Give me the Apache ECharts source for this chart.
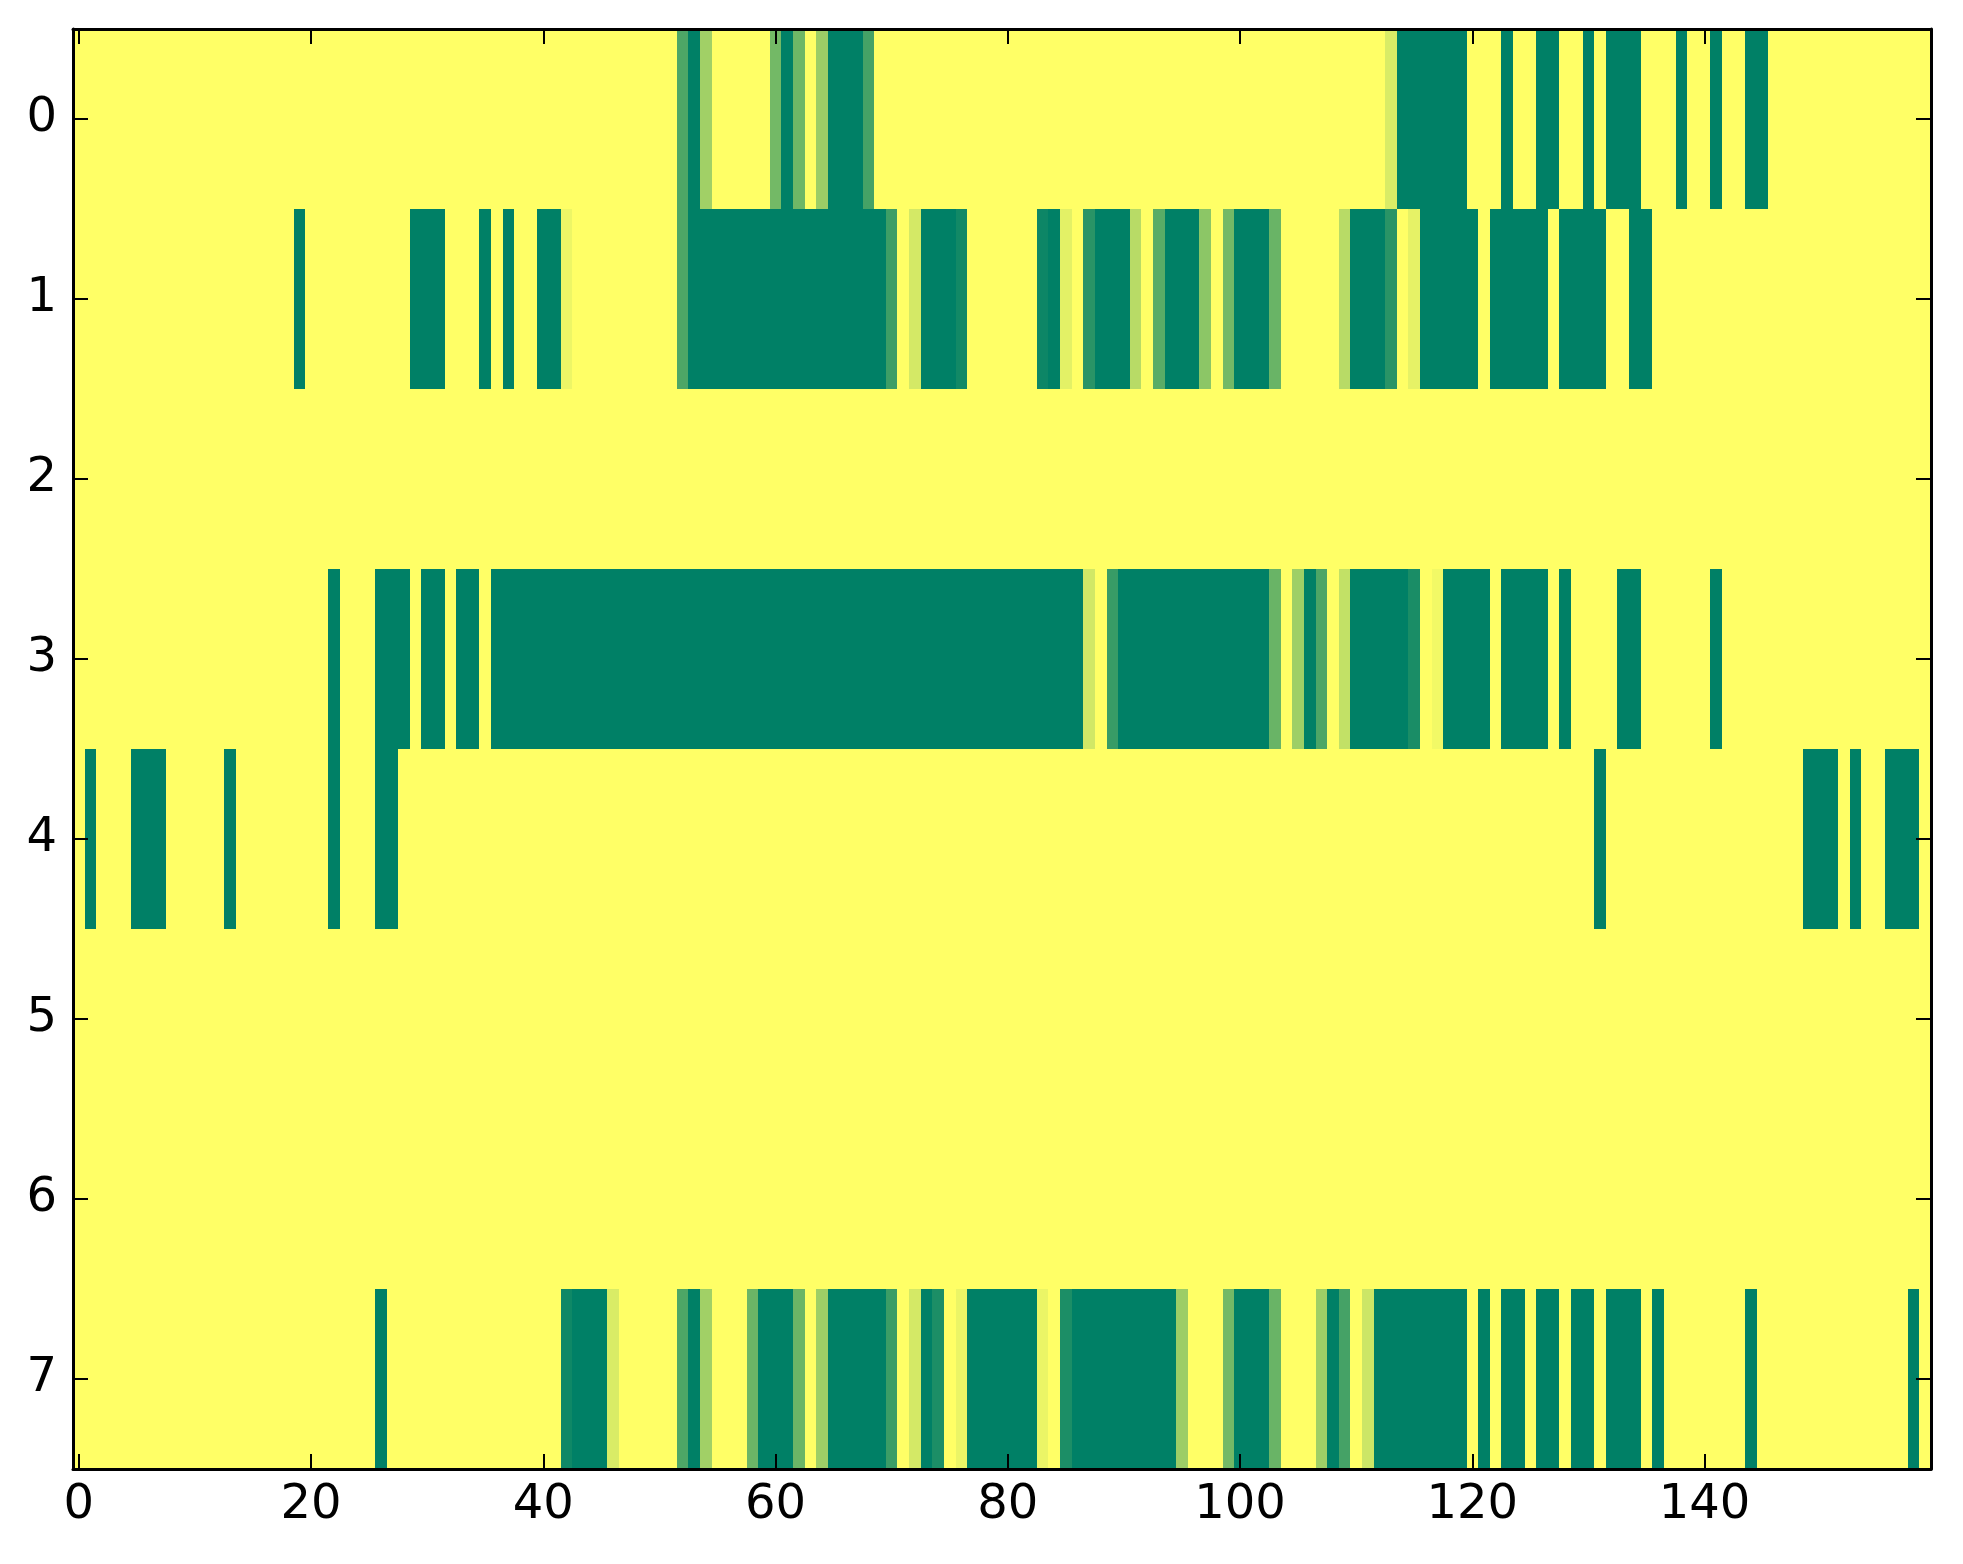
<!DOCTYPE html>
<html>
<head>
<meta charset="utf-8">
<script src="https://cdn.jsdelivr.net/npm/echarts@6/dist/echarts.min.js"></script>
<style>
html,body{margin:0;padding:0;background:#ffffff;}
#chart{width:1963px;height:1564px;}
</style>
</head>
<body>
<div id="chart"></div>
<script>
// ---- data (run-length: [value, count]) ----
const rowLabels = ['0', '1', '2', '3', '4', '5', '6', '7'];
const xTickLabels = [0, 20, 40, 60, 80, 100, 120, 140];
const nCols = 160;

const row0 = [[1,52],[0.3,1],[0,1],[0.63,1],[1,5],[0.45,1],[0,1],[0.43,1],[1,1],[0.61,1],[0,3],[0.27,1],[1,44],[0.85,1],[0,6],[1,3],[0,1],[1,2],[0,2],[1,2],[0,1],[1,1],[0,3],[1,3],[0,1],[1,2],[0,1],[1,2],[0,2],[1,14]];
const row1 = [[1,19],[0,1],[1,9],[0,3],[1,3],[0,1],[1,1],[0,1],[1,2],[0,2],[0.93,1],[1,9],[0.3,1],[0,17],[0.24,1],[1,1],[0.83,1],[0,3],[0.07,1],[1,6],[0.05,1],[0,1],[0.89,1],[1,1],[0.16,1],[0,3],[0.72,1],[1,1],[0.35,1],[0,3],[0.55,1],[1,1],[0.45,1],[0,3],[0.41,1],[1,5],[0.72,1],[0,3],[0.16,1],[1,1],[0.9,1],[0,5],[1,1],[0,5],[1,1],[0,4],[1,2],[0,2],[1,24]];
const row2 = [[1,160]];
const row3 = [[1,22],[0,1],[1,3],[0,3],[1,1],[0,2],[1,1],[0,2],[1,1],[0,51],[0.82,1],[1,1],[0.22,1],[0,13],[0.41,1],[1,1],[0.62,1],[0,1],[0.3,1],[1,1],[0.76,1],[0,5],[0.1,1],[1,1],[0.95,1],[0,4],[1,1],[0,4],[1,1],[0,1],[1,4],[0,2],[1,6],[0,1],[1,18]];
const row4 = [[1,1],[0,1],[1,3],[0,3],[1,5],[0,1],[1,8],[0,1],[1,3],[0,2],[1,103],[0,1],[1,17],[0,3],[1,1],[0,1],[1,2],[0,3],[1,1]];
const row5 = [[1,160]];
const row6 = [[1,160]];
const row7 = [[1,26],[0,1],[1,15],[0.06,1],[0,3],[0.85,1],[1,5],[0.3,1],[0,1],[0.63,1],[1,3],[0.42,1],[0,3],[0.42,1],[1,1],[0.62,1],[0,5],[0.23,1],[1,1],[0.83,1],[0,1],[0.11,1],[1,1],[0.92,1],[0,6],[0.92,1],[1,1],[0.11,1],[0,9],[0.61,1],[1,3],[0.45,1],[0,3],[0.41,1],[1,3],[0.62,1],[0,1],[0.27,1],[1,1],[0.8,1],[0,8],[1,1],[0,1],[1,1],[0,2],[1,1],[0,2],[1,1],[0,2],[1,1],[0,3],[1,1],[0,1],[1,7],[0,1],[1,13],[0,1],[1,1]];

const rows = [row0, row1, row2, row3, row4, row5, row6, row7];

// ---- build cell table ----
const xCategories = [];
for (let i = 0; i < nCols; i++) xCategories.push(String(i));
const tickSet = new Set(xTickLabels.map(String));

const cells = [];
rows.forEach((runs, r) => {
  let c = 0;
  runs.forEach(([v, n]) => {
    for (let k = 0; k < n; k++) { cells.push([c, r, v]); c++; }
  });
});

const FONT = 'DejaVu Sans';
const axisLine = { show: true, onZero: false, lineStyle: { color: '#000', width: 3 } };
const tickStyle = { color: '#000', width: 2 };

function renderCell(params, api) {
  const c = api.coord([api.value(0), api.value(1)]);
  const s = api.size([1, 1]);
  const x0 = Math.round(c[0] - s[0] / 2), x1 = Math.round(c[0] + s[0] / 2);
  const y0 = Math.round(c[1] - s[1] / 2), y1 = Math.round(c[1] + s[1] / 2);
  return {
    type: 'rect',
    shape: { x: x0, y: y0, width: x1 - x0, height: y1 - y0 },
    style: { fill: api.visual('color') },
    silent: true
  };
}

const chart = echarts.init(document.getElementById('chart'), null, { renderer: 'canvas' });
chart.setOption({
  animation: false,
  backgroundColor: '#ffffff',
  grid: { left: 73, top: 29, width: 1858, height: 1440, containLabel: false },
  xAxis: [
    {
      type: 'category', data: xCategories, position: 'bottom', boundaryGap: true, z: 10,
      axisLine: axisLine,
      axisTick: { show: true, inside: true, length: 15, alignWithLabel: true,
                  interval: (i, v) => tickSet.has(v), lineStyle: tickStyle },
      axisLabel: { show: true, interval: (i, v) => tickSet.has(v), margin: 13,
                   fontFamily: FONT, fontSize: 48, color: '#000' },
      splitLine: { show: false }
    },
    {
      type: 'category', data: xCategories, position: 'top', boundaryGap: true, z: 10,
      axisLine: axisLine,
      axisTick: { show: true, inside: true, length: 15, alignWithLabel: true,
                  interval: (i, v) => tickSet.has(v), lineStyle: tickStyle },
      axisLabel: { show: false },
      splitLine: { show: false }
    }
  ],
  yAxis: [
    {
      type: 'category', data: rowLabels, inverse: true, position: 'left', boundaryGap: true, z: 10,
      axisLine: axisLine,
      axisTick: { show: true, inside: true, length: 15, alignWithLabel: true, lineStyle: tickStyle },
      axisLabel: { show: true, margin: 16, fontFamily: FONT, fontSize: 48, color: '#000' },
      splitLine: { show: false }
    },
    {
      type: 'category', data: rowLabels, inverse: true, position: 'right', boundaryGap: true, z: 10,
      axisLine: axisLine,
      axisTick: { show: true, inside: true, length: 15, alignWithLabel: true, lineStyle: tickStyle },
      axisLabel: { show: false },
      splitLine: { show: false }
    }
  ],
  visualMap: {
    show: false, type: 'continuous', min: 0, max: 1, dimension: 2, seriesIndex: 0,
    inRange: { color: ['#008066', '#ffff66'] }
  },
  series: [{
    type: 'custom', xAxisIndex: 0, yAxisIndex: 0, data: cells,
    renderItem: renderCell, clip: true, z: 2,
    encode: { x: 0, y: 1 },
    progressive: 0
  }]
});
</script>
</body>
</html>
